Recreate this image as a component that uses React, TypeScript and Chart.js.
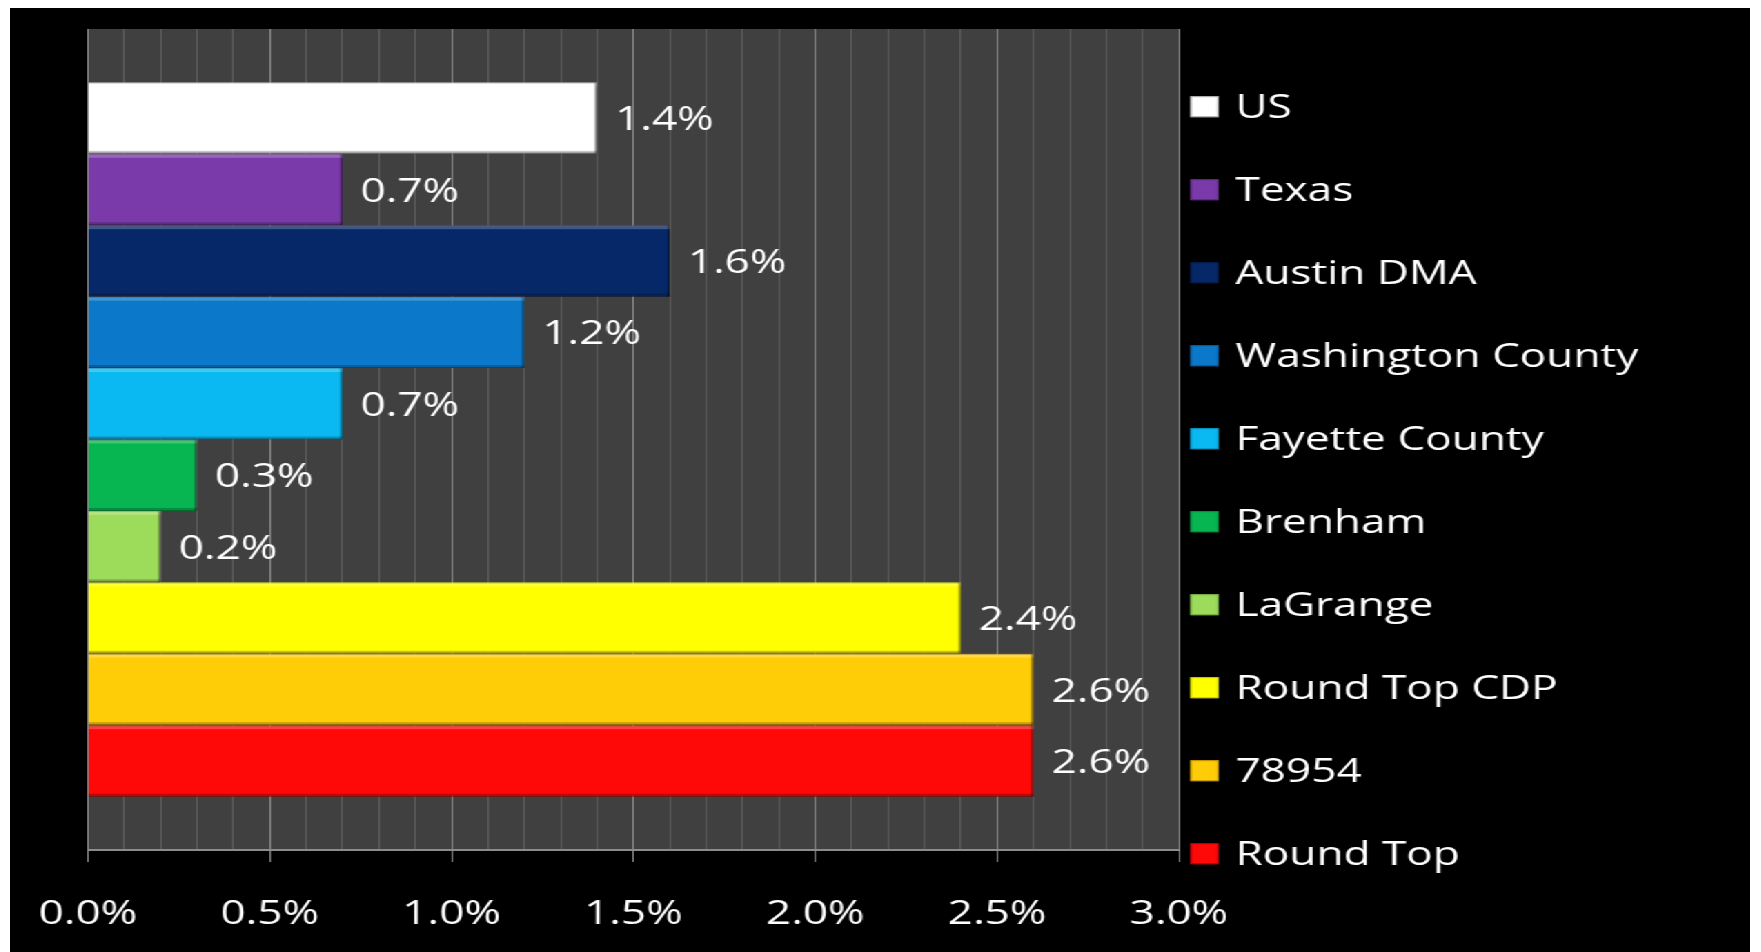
import React, { useEffect, useRef } from "react";
import { Chart, registerables } from "chart.js";

Chart.register(...registerables);

// ---- data ----
const seriesNames = [
  "US",
  "Texas",
  "Austin DMA",
  "Washington County",
  "Fayette County",
  "Brenham",
  "LaGrange",
  "Round Top CDP",
  "78954",
  "Round Top",
];
const growthValues = [1.4, 0.7, 1.6, 1.2, 0.7, 0.3, 0.2, 2.4, 2.6, 2.6];
const seriesColors = [
  "#ffffff",
  "#7a3aa9",
  "#072868",
  "#0b78c9",
  "#0ab9f2",
  "#07b650",
  "#9ddb5a",
  "#ffff00",
  "#ffcc08",
  "#ff0808",
];
const seriesBorders = [
  "#a6a6a6",
  "#55287c",
  "#031a48",
  "#075a99",
  "#0790bd",
  "#058a3c",
  "#74a842",
  "#c8c800",
  "#c09000",
  "#b40000",
];
const axisMin = 0;
const axisMax = 3;
const minorStep = 0.1;
const majorStep = 0.5;

// ---- layout ----
const STRETCH = 1.38;
const W = 1261;
const H = 944;
const FONT = "'Open Sans', 'Noto Sans', sans-serif";

const isMajor = (v: number) => Math.abs(v / majorStep - Math.round(v / majorStep)) < 1e-6;

const backgroundPlugin = {
  id: "bgPlugin",
  beforeDraw(chart: any) {
    const { ctx, chartArea } = chart;
    ctx.save();
    ctx.fillStyle = "#000000";
    ctx.fillRect(0, 0, chart.width, chart.height);
    ctx.fillStyle = "#404040";
    ctx.fillRect(chartArea.left, chartArea.top, chartArea.right - chartArea.left, chartArea.bottom - chartArea.top);
    ctx.restore();
  },
};

const bevelPlugin = {
  id: "bevel",
  afterDatasetsDraw(chart: any) {
    const { ctx } = chart;
    ctx.save();
    chart.data.datasets.forEach((_ds: any, i: number) => {
      const meta = chart.getDatasetMeta(i);
      meta.data.forEach((el: any) => {
        const left = el.base;
        const right = el.x;
        const top = el.y - el.height / 2;
        const bottom = el.y + el.height / 2;
        ctx.fillStyle = "rgba(255,255,255,0.22)";
        ctx.fillRect(left, top, right - left, 4);
        ctx.fillStyle = "rgba(0,0,0,0.22)";
        ctx.fillRect(left, bottom - 3, right - left, 3);
        ctx.fillRect(right - 2, top, 2, bottom - top);
      });
    });
    ctx.restore();
  },
};

const valueLabelPlugin = {
  id: "valueLabels",
  afterDatasetsDraw(chart: any) {
    const { ctx } = chart;
    ctx.save();
    ctx.font = `32px ${FONT}`;
    ctx.fillStyle = "#ffffff";
    ctx.textAlign = "left";
    ctx.textBaseline = "middle";
    chart.data.datasets.forEach((ds: any, i: number) => {
      const meta = chart.getDatasetMeta(i);
      meta.data.forEach((el: any, j: number) => {
        const v = ds.data[j] as number;
        ctx.fillText(`${v.toFixed(1)}%`, el.x + 13, el.y + 3);
      });
    });
    ctx.restore();
  },
};

const legendPlugin = {
  id: "sideLegend",
  afterDraw(chart: any) {
    const { ctx } = chart;
    ctx.save();
    ctx.font = `32px ${FONT}`;
    ctx.textAlign = "left";
    ctx.textBaseline = "middle";
    chart.data.datasets.forEach((ds: any, i: number) => {
      const cy = 98.7 + i * 83;
      const bx = 855.4;
      const bw = 20.4;
      const bh = 21;
      ctx.fillStyle = ds.backgroundColor;
      ctx.fillRect(bx, cy - bh / 2, bw, bh);
      ctx.strokeStyle = ds.borderColor;
      ctx.lineWidth = 1;
      ctx.strokeRect(bx + 0.5, cy - bh / 2 + 0.5, bw - 1, bh - 1);
      ctx.fillStyle = "#ffffff";
      ctx.fillText(ds.label, 888, cy + 2);
    });
    ctx.restore();
  },
};

export default function App() {
  const ref = useRef<HTMLCanvasElement>(null);

  useEffect(() => {
    if (!ref.current) return;
    const chart = new Chart(ref.current, {
      type: "bar",
      data: {
        labels: [""],
        datasets: seriesNames.map((name, i) => ({
          label: name,
          data: [growthValues[i]],
          backgroundColor: seriesColors[i],
          borderColor: seriesBorders[i],
          borderWidth: 1,
          categoryPercentage: 0.87,
          barPercentage: 1,
        })),
      },
      options: {
        indexAxis: "y",
        responsive: false,
        animation: false,
        devicePixelRatio: 1,
        layout: { padding: { left: 56.5, right: 1261 - 847.1, top: 21, bottom: 0 } },
        plugins: {
          legend: { display: false },
          tooltip: { enabled: false },
        },
        scales: {
          x: {
            min: axisMin,
            max: axisMax,
            afterFit: (s: any) => {
              s.paddingLeft = 0;
              s.paddingRight = 0;
              s.height = 944 - 842;
            },
            ticks: {
              stepSize: minorStep,
              autoSkip: false,
              maxRotation: 0,
              color: "#ffffff",
              padding: 34,
              font: { family: FONT, size: 32 },
              callback: (v: any) => (isMajor(Number(v)) ? `${Number(v).toFixed(1)}%` : ""),
            },
            grid: {
              color: (c: any) => (isMajor(c.tick.value) ? "#8c8c8c" : "#5c5c5c"),
              tickColor: (c: any) => (isMajor(c.tick.value) ? "#8c8c8c" : "rgba(0,0,0,0)"),
              tickLength: 12,
              lineWidth: 1,
            },
            border: { display: true, color: "#8c8c8c", width: 2 },
          },
          y: { display: false },
        },
      },
      plugins: [backgroundPlugin, bevelPlugin, valueLabelPlugin, legendPlugin],
    } as any);
    return () => chart.destroy();
  }, []);

  return (
    <div
      style={{
        position: "fixed",
        left: 10,
        top: 8,
        width: W,
        height: H,
        transform: `scaleX(${STRETCH})`,
        transformOrigin: "0 0",
        background: "#000",
      }}
    >
      <canvas ref={ref} width={W} height={H} style={{ display: "block" }} />
    </div>
  );
}
